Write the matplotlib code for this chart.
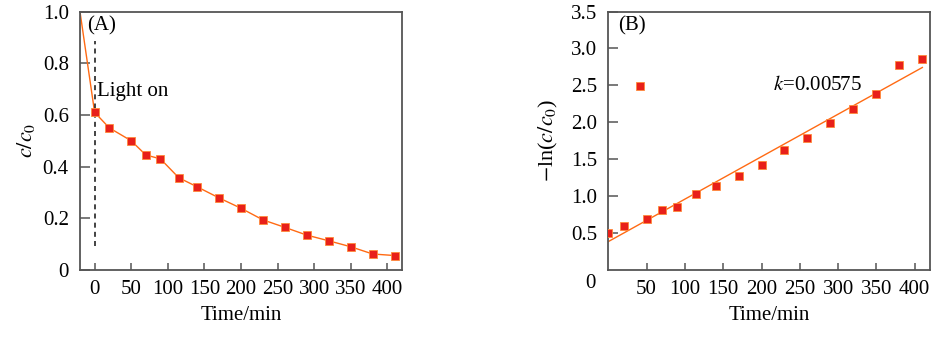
import numpy as np
import matplotlib.pyplot as plt

plt.rcParams['font.family'] = ['Liberation Serif', 'DejaVu Serif']
plt.rcParams['mathtext.fontset'] = 'stix'

# Panel A: relative concentration c/c0 over time
t_a = [-20, 0, 20, 50, 70, 90, 115, 140, 170, 200, 230, 260, 290, 320, 350, 380, 410]
c_ratio = [1.0, 0.61, 0.55, 0.50, 0.445, 0.43, 0.357, 0.322, 0.279, 0.239, 0.194,
           0.165, 0.135, 0.113, 0.090, 0.062, 0.056]

# Panel B: -ln(c/c0) and first-order fit
t_b = [0, 20, 42, 50, 70, 90, 115, 140, 170, 200, 230, 260, 290, 320, 350, 380, 410]
neg_ln = [0.50, 0.60, 2.49, 0.69, 0.806, 0.847, 1.028, 1.132, 1.277, 1.427, 1.63,
          1.79, 1.984, 2.18, 2.387, 2.77, 2.86]
k = 0.00575
fit_b0 = 0.385

line_col = '#ff6a13'
mark_col = '#e8201a'
spine_col = '#555555'
fs = 15

fig = plt.figure(figsize=(9.52, 3.39), dpi=100)
ax1 = fig.add_axes([0.084, 0.2035, 0.3382, 0.7625])
ax2 = fig.add_axes([0.639, 0.2035, 0.3379, 0.7625])

for ax in (ax1, ax2):
    for s in ax.spines.values():
        s.set_color(spine_col)
        s.set_linewidth(1.3)
    ax.tick_params(axis='y', direction='in', length=7, width=1.1, color=spine_col,
                   labelsize=fs, pad=8)
    ax.tick_params(axis='x', direction='in', length=5, width=1.1, color=spine_col,
                   labelsize=fs, pad=7)
    ax.set_xlabel('Time/min', fontsize=fs, labelpad=5)

# (A)
ax1.plot(t_a, c_ratio, color=line_col, lw=1.0, zorder=2)
ax1.plot(t_a[1:], c_ratio[1:], ls='none', marker='s', ms=5.3, mfc=mark_col,
         mec='#ff8a3a', mew=0.6, zorder=3)
ax1.vlines(0, 0.093, 0.885, colors='#222222', linestyles=(0, (3, 2.5)), lw=1.2)
ax1.text(3.5, 0.69, 'Light on', fontsize=fs, va='center', ha='left')
ax1.text(-10, 0.945, '(A)', fontsize=fs, va='center', ha='left')
ax1.set_xlim(-20, 420)
ax1.set_ylim(0, 1.0)
ax1.set_xticks([0, 50, 100, 150, 200, 250, 300, 350, 400])
ax1.set_yticks([0, 0.2, 0.4, 0.6, 0.8, 1.0])
ax1.set_yticklabels(['0', '0.2', '0.4', '0.6', '0.8', '1.0'])
ax1.set_ylabel(r'$c/c_{\mathrm{0}}$', fontsize=fs + 1, labelpad=4)

# (B)
t_fit = np.array([0, 410])
ax2.plot(t_fit, fit_b0 + k * t_fit, color=line_col, lw=1.0, zorder=2)
ax2.plot(t_b, neg_ln, ls='none', marker='s', ms=5.3, mfc=mark_col,
         mec='#ff8a3a', mew=0.6, zorder=3, clip_on=True)
ax2.text(215, 2.5, r'$k$=0.00575', fontsize=fs, va='center', ha='left')
ax2.text(13, 3.3, '(B)', fontsize=fs, va='center', ha='left')
ax2.set_xlim(0, 420)
ax2.set_ylim(0, 3.5)
ax2.set_xticks([50, 100, 150, 200, 250, 300, 350, 400])
ax2.set_yticks([0.5, 1.0, 1.5, 2.0, 2.5, 3.0, 3.5])
ax2.set_yticklabels(['0.5', '1.0', '1.5', '2.0', '2.5', '3.0', '3.5'])
ax2.annotate('0', xy=(0, 0), xytext=(-13, -10), textcoords='offset points',
             fontsize=fs, ha='center', va='center', annotation_clip=False)
ax2.set_ylabel(r'$-$ln($c/c_{\mathrm{0}}$)', fontsize=fs + 1, labelpad=8)

fig.savefig('out.png', dpi=100)
